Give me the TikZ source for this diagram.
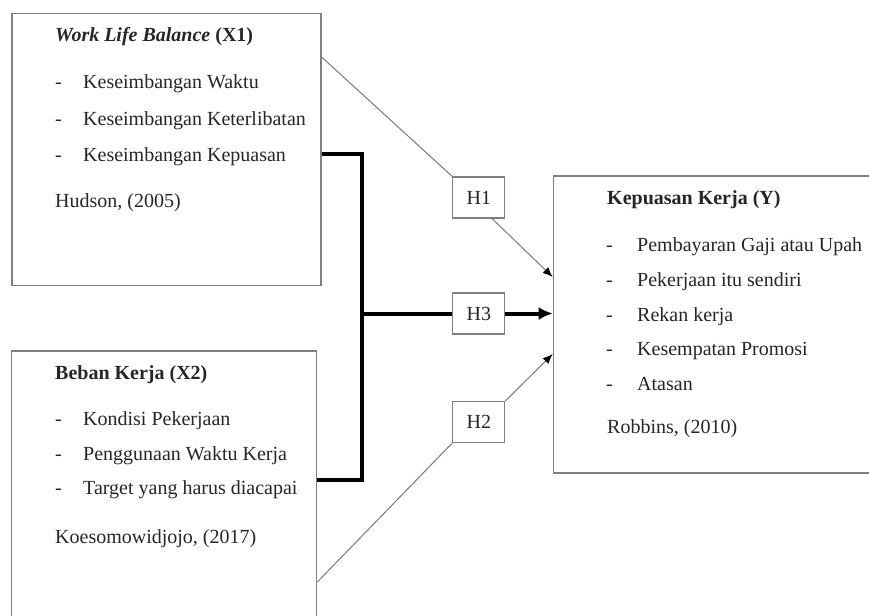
\documentclass[tikz,border=0pt]{standalone}
\usepackage{fontspec}
\setmainfont{Liberation Serif}
\usetikzlibrary{arrows.meta}
\definecolor{boxgray}{HTML}{808080}
\definecolor{linegray}{HTML}{7A7A7A}
\definecolor{textcol}{HTML}{262626}
\tikzset{
  every node/.style={font=\fontsize{20}{24}\selectfont},
  boxnode/.style={draw=boxgray, line width=1.2pt, inner sep=0, fill=white},
  hnode/.style={draw=boxgray, line width=1.2pt, inner sep=0, fill=white, text=textcol, minimum width=52pt, minimum height=41pt},
  txt/.style={anchor=base west, inner sep=0, text=textcol},
  thinline/.style={draw=linegray, line width=1pt},
  thickline/.style={draw=black, line width=4pt},
  tip/.style={-{Latex[length=10pt,width=8pt,color=black]}},
  bigtip/.style={-{Latex[length=14pt,width=13pt]}},
}
\begin{document}
\begin{tikzpicture}[x=1pt,y=-1pt]
\path[use as bounding box, clip] (0,0) rectangle (869,615);
\fill[white] (0,0) rectangle (869,615);

% boxes
\node[boxnode, minimum width=309pt, minimum height=272pt] (x1) at (166.4,149.8) {};
\node[boxnode, minimum width=305pt, minimum height=274pt] (x2) at (164.2,488) {};
\node[boxnode, minimum width=327pt, minimum height=297pt] (y) at (716.8,324.5) {};
\node[hnode] (h1) at (478.8,197.5) {H1};
\node[hnode] (h3) at (478.8,313.5) {H3};
\node[hnode] (h2) at (478.8,422) {H2};

% X1 texts
\node[txt] (x1t) at (55,42) {\textbf{\textit{Work Life Balance}} \textbf{(X1)}};
\node[txt] (x1d1) at (55,89) {-};
\node[txt] (x1i1) at (83,89) {Keseimbangan Waktu};
\node[txt] (x1d2) at (55,125) {-};
\node[txt] (x1i2) at (83,125) {Keseimbangan Keterlibatan};
\node[txt] (x1d3) at (55,161) {-};
\node[txt] (x1i3) at (83,161) {Keseimbangan Kepuasan};
\node[txt] (x1r) at (55,207) {Hudson, (2005)};

% X2 texts
\node[txt] (x2t) at (55,379) {\textbf{Beban Kerja (X2)}};
\node[txt] (x2d1) at (55,425) {-};
\node[txt] (x2i1) at (83,425) {Kondisi Pekerjaan};
\node[txt] (x2d2) at (55,460) {-};
\node[txt] (x2i2) at (83,460) {Penggunaan Waktu Kerja};
\node[txt] (x2d3) at (55,494) {-};
\node[txt] (x2i3) at (83,494) {Target yang harus diacapai};
\node[txt] (x2r) at (55,543) {Koesomowidjojo, (2017)};

% Y texts
\node[txt] (yt) at (607,204) {\textbf{Kepuasan Kerja (Y)}};
\node[txt] (yd1) at (606,251) {-};
\node[txt] (yi1) at (637,251) {Pembayaran Gaji atau Upah};
\node[txt] (yd2) at (606,286) {-};
\node[txt] (yi2) at (637,286) {Pekerjaan itu sendiri};
\node[txt] (yd3) at (606,321) {-};
\node[txt] (yi3) at (637,321) {Rekan kerja};
\node[txt] (yd4) at (606,355) {-};
\node[txt] (yi4) at (637,355) {Kesempatan Promosi};
\node[txt] (yd5) at (606,390) {-};
\node[txt] (yi5) at (637,390) {Atasan};
\node[txt] (yr) at (607,433) {Robbins, (2010)};

% coordinates for connectors
\coordinate (bt) at (361.7,153.5);
\coordinate (bb) at (361.7,480);

% thick bracket (H3)
\draw[thickline] (x1.east |- bt) -- (bt) -- (bb) -- (x2.east |- bb);
\draw[thickline] (bt |- h3) -- (h3.west);
\draw[thickline, bigtip] (h3.east) -- (y.west |- h3);

% H1
\draw[thinline] (x1.east |- 0,57) -- (h1.north west);
\draw[thinline, tip] (h1.south -| 492,0) -- (y.west |- 0,277);

% H2
\draw[thinline] (x2.east |- 0,582) -- (h2.south west);
\draw[thinline, tip] (h2.north east) -- (y.west |- 0,354);
\end{tikzpicture}
\end{document}
